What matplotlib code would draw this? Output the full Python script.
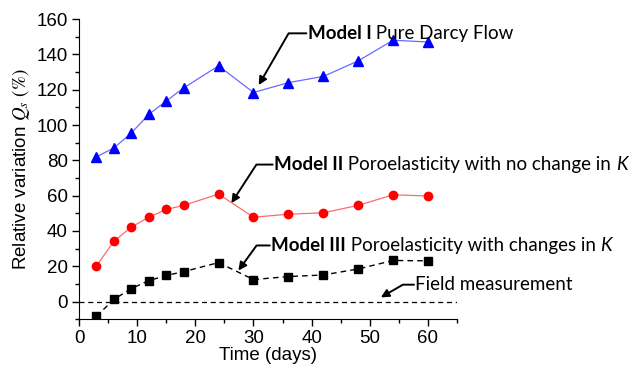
import matplotlib
matplotlib.use("Agg")
import matplotlib.pyplot as plt
from matplotlib.ticker import MultipleLocator

days = [3, 6, 9, 12, 15, 18, 24, 30, 36, 42, 48, 54, 60]
model_1 = [82, 87, 95.5, 106, 113.6, 121, 133.5, 118.4, 124, 127.5, 136.3, 148, 147]
model_2 = [20.2, 34.2, 42.2, 47.8, 52.2, 54.5, 60.9, 47.8, 49.5, 50.3, 54.5, 60.5, 59.8]
model_3 = [-8.3, 1.3, 7.4, 11.9, 14.8, 17, 22.1, 12.5, 14.2, 15.1, 18.5, 23.3, 23.1]
field_value = 0

plt.rcParams["font.family"] = ["Liberation Sans", "DejaVu Sans"]
plt.rcParams["mathtext.fontset"] = "stix"

fig = plt.figure(figsize=(6.44, 3.66), dpi=100)
ax = fig.add_axes([0.1227, 0.1276, 0.587, 0.8204])

ax.plot(days, model_1, color="#6a6aff", lw=0.9, marker="^", ms=7,
        mfc="#0000ff", mec="#0000ff")
ax.plot(days, model_2, color="#ff6a6a", lw=0.9, marker="o", ms=6,
        mfc="#ff0000", mec="#ff0000")
ax.plot(days, model_3, color="black", lw=1.0, ls=(0, (4, 3)), marker="s", ms=5.5,
        mfc="black", mec="black")
ax.axhline(field_value, color="black", lw=0.9, ls=(0, (4, 3)))

ax.set_xlim(0, 65)
ax.set_ylim(-10, 160)
ax.xaxis.set_major_locator(MultipleLocator(10))
ax.xaxis.set_minor_locator(MultipleLocator(5))
ax.yaxis.set_major_locator(MultipleLocator(20))
ax.yaxis.set_minor_locator(MultipleLocator(10))
for s in ("top", "right"):
    ax.spines[s].set_visible(False)
ax.tick_params(which="major", direction="out", length=5, width=1, labelsize=13.5, pad=3)
ax.tick_params(which="minor", direction="out", length=3, width=1)
ax.set_xlabel("Time (days)", fontsize=13.5, labelpad=0)
ax.set_ylabel(r"Relative variation $\mathit{Q}_{\mathit{s}}$ $\mathrm{(\%)}$",
              fontsize=13.5, labelpad=3)

afont = ["Lato", "DejaVu Sans"]
fs = 13.5
# (bold part, normal part, italic tail, arrow tip, text start, arrow angle)
notes = [
    ("Model I", " Pure Darcy Flow", "", (30.9, 122.6), (39.1, 151.9), 60),
    ("Model II", " Poroelasticity with no change in ", "K", (26.2, 55.8), (33.3, 77.6), 57),
    ("Model III", " Poroelasticity with changes in ", "K", (27.4, 17.6), (32.8, 31.8), 54),
    ("", "Field measurement", "", (51.9, 2.4), (57.6, 9.6), 30),
]
for bold, rest, tail, tip, start, ang in notes:
    ax.annotate("", xy=tip, xytext=start,
                arrowprops=dict(arrowstyle="-|>", color="black", lw=1.4,
                                mutation_scale=12, shrinkA=0, shrinkB=0,
                                connectionstyle=f"angle,angleA=0,angleB={ang},rad=0"))
    prev = ax.text(start[0] + 0.2, start[1], bold, fontsize=fs, fontweight="bold",
                   family=afont, va="center", ha="left")
    prev = ax.annotate(rest, xy=(1, 0.5), xycoords=prev, va="center", ha="left",
                       fontsize=fs, family=afont)
    if tail:
        ax.annotate(tail, xy=(1, 0.5), xycoords=prev, va="center", ha="left",
                    fontsize=fs, family=afont, style="italic")

fig.savefig("out.png", dpi=100)
